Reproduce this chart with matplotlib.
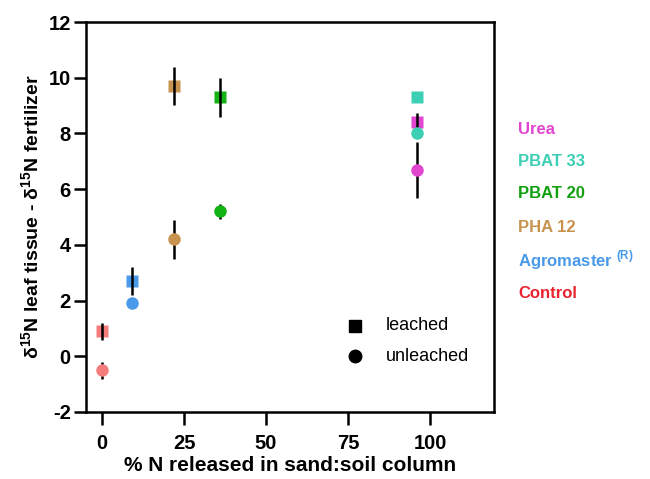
import matplotlib
matplotlib.use("Agg")
import matplotlib.pyplot as plt

plt.rcParams["font.family"] = ["Liberation Sans", "DejaVu Sans"]
plt.rcParams["mathtext.fontset"] = "custom"
plt.rcParams["mathtext.rm"] = "Liberation Sans"
plt.rcParams["mathtext.bf"] = "Liberation Sans:bold"
plt.rcParams["axes.unicode_minus"] = False

# data
treatments = ["Control", "Agromaster", "PHA 12", "PBAT 20", "PBAT 33", "Urea"]
n_released = [0, 9, 22, 36, 96, 96]
leached = [0.9, 2.7, 9.7, 9.3, 9.3, 8.4]
leached_err = [0.3, 0.5, 0.67, 0.7, 0.0, 0.35]
unleached = [-0.5, 1.9, 4.2, 5.2, 8.0, 6.7]
unleached_err = [0.3, 0.0, 0.7, 0.28, 0.0, 1.0]

point_colors = ["#F47C7C", "#4A9AEA", "#C8934E", "#13B313", "#3CCFB4", "#E046D0"]
label_colors = ["#E8232F", "#4A9AEA", "#C8934E", "#10A010", "#3CCFB4", "#E046D0"]
label_texts = ["Control", r"Agromaster $^{\bf (R)}$", "PHA 12", "PBAT 20", "PBAT 33", "Urea"]

fig = plt.figure(figsize=(6.5, 4.79), dpi=100)
ax = fig.add_axes([0.1323, 0.1399, 0.6277, 0.8141])

for i in range(len(treatments)):
    x = n_released[i]
    ax.plot(x, leached[i], "s", color=point_colors[i], ms=9, mec="none", zorder=2)
    if leached_err[i] > 0:
        ax.errorbar(x, leached[i], yerr=leached_err[i], fmt="none", ecolor="black",
                    elinewidth=1.8, capsize=0, zorder=3)
    if unleached_err[i] > 0:
        ax.errorbar(x, unleached[i], yerr=unleached_err[i], fmt="none", ecolor="black",
                    elinewidth=1.8, capsize=0, zorder=3)
    ax.plot(x, unleached[i], "o", color=point_colors[i], ms=9, mec="none", zorder=4)

ax.set_xlim(-4.9, 119.5)
ax.set_ylim(-2, 12)
ax.set_xticks([0, 25, 50, 75, 100])
ax.set_yticks(range(-2, 13, 2))
for s in ax.spines.values():
    s.set_linewidth(1.8)
ax.tick_params(width=1.8, length=9, labelsize=14.5)
ax.tick_params(axis="x", pad=7)
ax.tick_params(axis="y", pad=2)
for lab in ax.get_xticklabels() + ax.get_yticklabels():
    lab.set_fontweight("bold")

ax.set_xlabel("% N released in sand:soil column", fontsize=15, fontweight="bold", labelpad=2)
ax.set_ylabel(r"δ$^{\bf 15}$N leaf tissue - δ$^{\bf 15}$N fertilizer", fontsize=14,
              fontweight="bold", labelpad=4)

# marker legend
ax.plot(77, 1.1, "s", color="black", ms=9, clip_on=False)
ax.plot(77, 0.0, "o", color="black", ms=9, clip_on=False)
ax.text(86.5, 1.1, "leached", fontsize=13, va="center")
ax.text(86.5, 0.0, "unleached", fontsize=13, va="center")

# treatment labels outside the frame
label_y = [293, 260, 228, 194, 162, 129]
for txt, col, py in zip(label_texts, label_colors, label_y):
    fig.text(518 / 650, 1 - py / 479, txt, color=col, fontsize=12, fontweight="bold",
             va="center", ha="left")

fig.savefig("out.png", dpi=100, facecolor="white")
